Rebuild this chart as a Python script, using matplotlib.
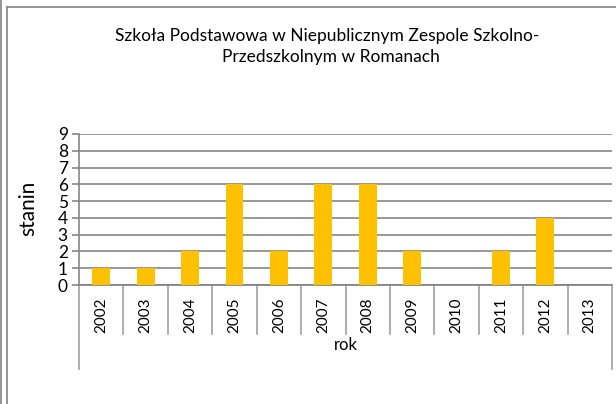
import matplotlib
matplotlib.use("Agg")
import matplotlib.pyplot as plt
from matplotlib.lines import Line2D

# Dane
lata = ["2002", "2003", "2004", "2005", "2006", "2007", "2008",
        "2009", "2010", "2011", "2012", "2013"]
stanin = [1, 1, 2, 6, 2, 6, 6, 2, 0, 2, 4, 0]

plt.rcParams['font.family'] = ['Lato', 'DejaVu Sans']

W, H = 616, 404
fig = plt.figure(figsize=(W / 100, H / 100), dpi=100)
ax = fig.add_axes([79 / W, 1 - 285 / H, (612 - 79) / W, (285 - 134) / H])

szary = "#868686"
pozycje = list(range(len(lata)))
ax.bar(pozycje, stanin, width=0.4, color="#FFC000", zorder=3)

ax.set_xlim(-0.5, len(lata) - 0.5)
ax.set_ylim(0, 9)
ax.set_yticks(range(10))
ax.yaxis.grid(True, color=szary, linewidth=1.2, zorder=0)
ax.set_axisbelow(True)

ax.set_xticks(pozycje)
ax.set_xticklabels(lata, rotation=90, fontsize=11)
ax.tick_params(axis="x", length=0, pad=9)
ax.tick_params(axis="y", length=5, color=szary, width=1.2, labelsize=12.5, pad=3)

for s in ["top", "right"]:
    ax.spines[s].set_visible(False)
ax.spines["left"].set_color(szary)
ax.spines["bottom"].set_color(szary)
ax.spines["left"].set_linewidth(1.2)
ax.spines["bottom"].set_linewidth(1.3)

# linie podziału kategorii pod osią
tr = ax.get_xaxis_transform()
for i in range(len(lata) + 1):
    x = i - 0.5
    dol = -0.556 if i in (0, len(lata)) else -0.325
    ax.plot([x, x], [0, dol], color="#a0a0a0", linewidth=1.2,
            transform=tr, clip_on=False)

ax.text(0.5, -0.40, "rok", transform=ax.transAxes, ha="center", va="center",
        fontsize=12)
fig.text(28 / W, 1 - 208 / H, "stanin", rotation=90, ha="center", va="center",
         fontsize=15)

fig.text(327 / W, 1 - 36 / H, "Szkoła Podstawowa w Niepublicznym Zespole Szkolno-",
         ha="center", va="center", fontsize=12.5)
fig.text(331 / W, 1 - 57 / H, "Przedszkolnym w Romanach",
         ha="center", va="center", fontsize=12.5)

# ramka wykresu
ramka = "#8c8c8c"
fig.add_artist(Line2D([7 / W, 1], [1 - 7 / H, 1 - 7 / H], color=ramka, linewidth=1.3))
fig.add_artist(Line2D([7 / W, 7 / W], [0, 1 - 7 / H], color=ramka, linewidth=1.3))
fig.add_artist(Line2D([1 / W, 1 / W], [0, 1], color=ramka, linewidth=1.3))

fig.savefig("out.png", dpi=100)
